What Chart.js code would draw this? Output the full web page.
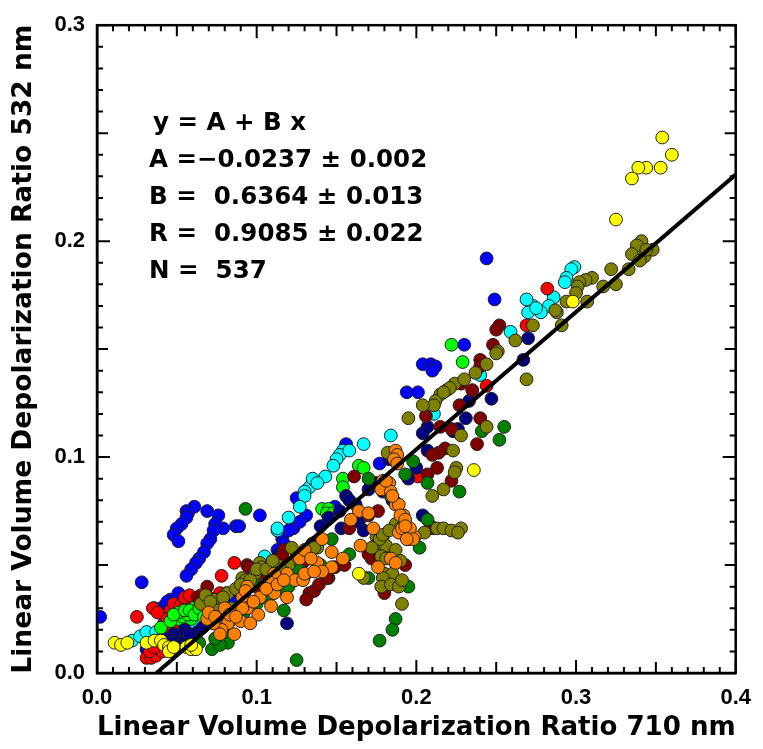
<!DOCTYPE html>
<html>
<head>
<meta charset="utf-8">
<script src="https://cdn.jsdelivr.net/npm/chart.js"></script>
<style>
  html, body { margin: 0; padding: 0; background: #fff; }
  #wrap { width: 763px; height: 749px; }
</style>
</head>
<body>
<div id="wrap"><canvas id="chart" width="763" height="749"></canvas></div>
<script>
// values: [LVDR 710 nm, LVDR 532 nm]
const yellowPts = [[0.011,0.014],[0.015,0.013],[0.019,0.014],[0.031,0.014],[0.036,0.015],[0.040,0.015],[0.042,0.013],[0.045,0.012],[0.045,0.010],[0.048,0.012],[0.056,0.012],[0.059,0.011],[0.062,0.011],[0.059,0.013],
  [0.164,0.046],[0.236,0.094],
  [0.354,0.248],[0.360,0.240],[0.353,0.234],[0.344,0.234],[0.339,0.234],[0.335,0.229],[0.325,0.210],[0.298,0.172]];

const orangePts = [[0.187,0.103],[0.188,0.101],[0.179,0.089],[0.180,0.087],[0.183,0.088],[0.178,0.085],[0.184,0.084],[0.187,0.078],[0.164,0.075],[0.159,0.071],
  [0.173,0.067],[0.189,0.065],[0.195,0.062],[0.199,0.063],[0.141,0.062],[0.186,0.099],[0.181,0.089],[0.170,0.074],[0.192,0.073],[0.196,0.067],
  [0.191,0.067],[0.184,0.053],[0.187,0.051],[0.176,0.049],[0.165,0.059],[0.154,0.053],[0.147,0.056],[0.138,0.051],[0.147,0.049],[0.127,0.053],
  [0.130,0.057],[0.119,0.046],[0.111,0.046],[0.105,0.041],[0.094,0.040],[0.091,0.035],[0.141,0.047],[0.124,0.043],[0.129,0.043],[0.130,0.046],
  [0.119,0.035],[0.108,0.042],[0.111,0.037],[0.102,0.035],[0.094,0.030],[0.101,0.027],[0.090,0.024],[0.082,0.023],[0.078,0.020],[0.073,0.023],
  [0.109,0.031],[0.080,0.030],[0.077,0.018],[0.069,0.025],[0.093,0.038],[0.091,0.030],[0.096,0.023],[0.086,0.018],[0.188,0.097],[0.189,0.078],
  [0.190,0.073],[0.193,0.071],[0.193,0.068],[0.198,0.062],[0.194,0.062],[0.185,0.082],
  [0.070,0.028],[0.074,0.026],[0.083,0.027],[0.087,0.026],[0.098,0.033],[0.106,0.039],[0.113,0.041],[0.117,0.043],[0.134,0.053],[0.136,0.047]];

const olivePts = [[0.341,0.200],[0.338,0.198],[0.335,0.194],[0.343,0.193],[0.348,0.196],[0.340,0.191],[0.344,0.196],[0.333,0.187],[0.325,0.180],[0.322,0.187],
  [0.317,0.179],[0.310,0.183],[0.306,0.182],[0.302,0.181],[0.301,0.179],[0.300,0.176],[0.307,0.172],[0.294,0.172],[0.288,0.167],[0.291,0.161],
  [0.273,0.161],[0.262,0.154],[0.251,0.149],[0.287,0.168],[0.250,0.148],[0.244,0.143],[0.237,0.139],[0.269,0.136],[0.224,0.134],[0.219,0.131],
  [0.215,0.129],[0.212,0.126],[0.211,0.124],[0.204,0.124],[0.195,0.118],[0.244,0.114],[0.228,0.110],[0.223,0.103],[0.210,0.082],[0.217,0.085],
  [0.225,0.095],[0.224,0.093],[0.182,0.102],[0.230,0.136],[0.221,0.132],[0.217,0.130],[0.205,0.065],[0.213,0.067],[0.217,0.067],[0.222,0.066],
  [0.228,0.067],[0.226,0.065],[0.187,0.069],[0.190,0.067],[0.179,0.063],[0.175,0.063],[0.176,0.060],[0.181,0.059],[0.187,0.057],[0.178,0.054],
  [0.181,0.053],[0.190,0.052],[0.180,0.046],[0.185,0.046],[0.179,0.044],[0.178,0.040],[0.184,0.041],[0.189,0.040],[0.191,0.043],[0.191,0.032],
  [0.167,0.044],[0.138,0.058],[0.136,0.058],[0.102,0.051],[0.103,0.049],[0.091,0.044],[0.081,0.037],[0.099,0.046],[0.177,0.062],[0.179,0.064],
  [0.183,0.066],[0.065,0.032],[0.082,0.037],[0.093,0.043],[0.100,0.048],[0.073,0.034],[0.084,0.030],[0.076,0.029],[0.120,0.050],[0.125,0.055],
  [0.113,0.050],[0.172,0.058],[0.195,0.062],
  [0.068,0.036],[0.071,0.033],[0.079,0.035],[0.087,0.039],[0.090,0.041],[0.096,0.043],[0.106,0.048],[0.110,0.052],[0.115,0.048],[0.122,0.058]];

const greenPts = [[0.255,0.114],[0.241,0.112],[0.252,0.108],[0.227,0.084],[0.207,0.088],[0.198,0.098],[0.193,0.092],[0.207,0.071],[0.170,0.090],[0.182,0.084],
  [0.184,0.082],[0.147,0.062],[0.202,0.058],[0.170,0.044],[0.195,0.040],[0.187,0.025],[0.185,0.020],[0.177,0.015],[0.158,0.055],[0.093,0.076],
  [0.113,0.046],[0.117,0.039],[0.117,0.029],[0.098,0.043],[0.125,0.006],[0.082,0.014],[0.064,0.014],[0.072,0.011],[0.077,0.013],[0.130,0.045],
  [0.140,0.050],[0.088,0.030],[0.105,0.035],
  [0.074,0.016],[0.080,0.019],[0.085,0.025],[0.092,0.028],[0.100,0.032],[0.108,0.036],[0.120,0.040],[0.126,0.048]];

const darkRedPts = [[0.252,0.161],[0.250,0.159],[0.248,0.152],[0.240,0.145],[0.240,0.142],[0.228,0.134],[0.235,0.131],[0.227,0.124],[0.206,0.119],[0.215,0.114],
  [0.222,0.113],[0.240,0.118],[0.238,0.106],[0.218,0.104],[0.214,0.102],[0.213,0.095],[0.207,0.092],[0.222,0.089],[0.209,0.068],[0.161,0.091],
  [0.176,0.075],[0.170,0.073],[0.158,0.067],[0.210,0.067],[0.210,0.101],[0.094,0.050],[0.117,0.057],[0.128,0.055],[0.130,0.052],[0.145,0.044],
  [0.149,0.049],[0.133,0.037],[0.136,0.038],[0.131,0.034],[0.139,0.041],[0.069,0.040],[0.095,0.049],[0.155,0.050],[0.144,0.044],[0.172,0.053],
  [0.170,0.055],[0.180,0.037],[0.193,0.050],[0.116,0.054],
  [0.120,0.045],[0.125,0.047],[0.110,0.044],[0.100,0.040],[0.103,0.046],[0.063,0.035]];

const navyPts = [[0.270,0.155],[0.267,0.145],[0.247,0.127],[0.231,0.118],[0.233,0.126],[0.207,0.114],[0.204,0.111],[0.223,0.112],[0.226,0.113],[0.207,0.103],
  [0.183,0.099],[0.204,0.073],[0.156,0.082],[0.158,0.080],[0.162,0.078],[0.179,0.084],[0.187,0.079],[0.153,0.067],[0.164,0.070],[0.167,0.066],
  [0.114,0.055],[0.107,0.049],[0.109,0.050],[0.119,0.023],[0.051,0.016],[0.056,0.017],[0.052,0.014],[0.060,0.015],[0.048,0.018],[0.063,0.019],
  [0.140,0.068],[0.135,0.060],[0.145,0.072],[0.170,0.085],[0.175,0.088],[0.195,0.090],[0.098,0.043],[0.092,0.040],[0.130,0.052],[0.152,0.075],
  [0.185,0.080],[0.200,0.095],
  [0.045,0.016],[0.050,0.013],[0.055,0.020],[0.058,0.018],[0.066,0.021],[0.070,0.024],[0.075,0.026],[0.080,0.028],[0.047,0.014]];

const redPts = [[0.025,0.026],[0.031,0.007],[0.034,0.007],[0.037,0.008],[0.039,0.011],[0.042,0.023],[0.046,0.029],[0.048,0.032],[0.054,0.029],[0.059,0.030],
  [0.060,0.033],[0.073,0.032],[0.076,0.033],[0.077,0.037],[0.086,0.051],[0.078,0.045],[0.041,0.010],[0.073,0.034],[0.070,0.035],[0.201,0.091],
  [0.244,0.133],[0.269,0.161],[0.282,0.178],[0.065,0.036],[0.050,0.027],[0.044,0.018],
  [0.035,0.030],[0.038,0.028],[0.044,0.025],[0.047,0.022],[0.052,0.031],[0.056,0.033],[0.063,0.030],[0.066,0.034],[0.069,0.031],[0.033,0.010],
  [0.036,0.012],[0.055,0.035],[0.058,0.036]];

const limePts = [[0.051,0.025],[0.054,0.026],[0.059,0.025],[0.051,0.028],[0.069,0.029],[0.040,0.021],[0.062,0.031],[0.057,0.027],[0.066,0.028],[0.072,0.027],
  [0.164,0.096],[0.167,0.095],[0.154,0.090],[0.141,0.076],[0.145,0.076],[0.144,0.074],[0.154,0.086],[0.222,0.152],[0.229,0.144],[0.148,0.074],
  [0.046,0.024],[0.048,0.027],[0.055,0.029],[0.058,0.029],[0.061,0.027],[0.064,0.030],[0.067,0.026],[0.075,0.030]];

const bluePts = [[0.056,0.075],[0.061,0.077],[0.069,0.075],[0.076,0.073],[0.079,0.067],[0.074,0.069],[0.073,0.066],[0.071,0.062],[0.069,0.060],[0.067,0.056],
  [0.064,0.053],[0.062,0.051],[0.059,0.048],[0.056,0.045],[0.057,0.074],[0.056,0.072],[0.053,0.069],[0.050,0.067],[0.048,0.064],[0.051,0.061],
  [0.087,0.068],[0.102,0.073],[0.028,0.042],[0.002,0.026],[0.046,0.034],[0.051,0.037],[0.042,0.031],[0.031,0.011],[0.039,0.015],
  [0.156,0.106],[0.125,0.081],[0.131,0.073],[0.127,0.070],[0.123,0.067],[0.120,0.066],[0.116,0.062],[0.149,0.077],[0.177,0.097],[0.089,0.068],
  [0.117,0.060],[0.113,0.057],
  [0.244,0.192],[0.249,0.173],[0.230,0.152],[0.204,0.143],[0.209,0.143],[0.212,0.142],[0.210,0.140],[0.194,0.130],[0.201,0.130],
  [0.054,0.025],[0.060,0.022],[0.072,0.028],[0.040,0.020],[0.085,0.035],[0.036,0.030],[0.044,0.033]];

const cyanPts = [[0.022,0.015],[0.027,0.017],[0.031,0.019],[0.037,0.019],[0.048,0.020],[0.052,0.024],[0.065,0.025],[0.113,0.066],[0.105,0.054],[0.045,0.022],
  [0.154,0.103],[0.152,0.101],[0.150,0.099],[0.148,0.096],[0.143,0.091],[0.136,0.089],[0.133,0.086],[0.130,0.084],[0.130,0.082],[0.127,0.077],
  [0.120,0.072],[0.113,0.067],[0.184,0.110],[0.167,0.106],[0.158,0.103],[0.135,0.090],[0.138,0.088],
  [0.299,0.188],[0.297,0.187],[0.294,0.183],[0.293,0.181],[0.286,0.174],[0.283,0.170],[0.278,0.167],[0.273,0.170],[0.270,0.167],
  [0.269,0.173],[0.275,0.169],[0.259,0.158],[0.240,0.138],[0.211,0.120],
  [0.041,0.020],[0.057,0.024],[0.061,0.023],[0.070,0.026]];

// linear fit shown on the figure
const fitA = -0.0237;
const fitB = 0.6364;
const fitText = ['y = A + B x', 'A =\u22120.0237 \u00B1 0.002', 'B =  0.6364 \u00B1 0.013', 'R =  0.9085 \u00B1 0.022', 'N =  537'];

const xTicks = [0, 0.1, 0.2, 0.3, 0.4];
const yTicks = [0, 0.1, 0.2, 0.3];

// top-most series first
const series = [
  { pts: yellowPts, color: '#ffff00' },
  { pts: orangePts, color: '#ff8000' },
  { pts: olivePts, color: '#808000' },
  { pts: greenPts, color: '#008000' },
  { pts: darkRedPts, color: '#800000' },
  { pts: navyPts, color: '#000080' },
  { pts: limePts, color: '#00ff00' },
  { pts: redPts, color: '#ff0000' },
  { pts: cyanPts, color: '#00ffff' },
  { pts: bluePts, color: '#0000ff' }
];

const datasets = series.map((s, i) => ({
  type: 'scatter',
  data: s.pts.map(p => ({ x: p[0], y: p[1] })),
  backgroundColor: s.color,
  borderColor: '#222',
  borderWidth: 1,
  pointRadius: 6.4,
  order: i + 1
}));

const x0 = -fitA / fitB;
datasets.push({
  type: 'line',
  data: [{ x: x0, y: 0 }, { x: 0.4, y: fitA + fitB * 0.4 }],
  borderColor: '#000',
  borderWidth: 4,
  pointRadius: 0,
  order: 0
});

// frame, inward minor ticks on all four sides, and fit text
const framePlugin = {
  id: 'frame',
  afterDraw(chart) {
    const { ctx, chartArea: a, scales } = chart;
    ctx.save();
    ctx.strokeStyle = '#000';
    ctx.lineWidth = 2.5;
    ctx.strokeRect(a.left, a.top, a.right - a.left, a.bottom - a.top);
    ctx.lineWidth = 2;
    for (let i = 0; i <= 40; i++) {
      const px = scales.x.getPixelForValue(i / 100);
      const len = i % 10 === 0 ? 13 : (i % 5 === 0 ? 11 : 6);
      ctx.beginPath();
      ctx.moveTo(px, a.bottom); ctx.lineTo(px, a.bottom - len);
      ctx.moveTo(px, a.top); ctx.lineTo(px, a.top + len);
      ctx.stroke();
    }
    for (let i = 0; i <= 30; i++) {
      const py = scales.y.getPixelForValue(i / 100);
      const len = i % 10 === 0 ? 13 : (i % 5 === 0 ? 11 : 6);
      ctx.beginPath();
      ctx.moveTo(a.left, py); ctx.lineTo(a.left + len, py);
      ctx.moveTo(a.right, py); ctx.lineTo(a.right - len, py);
      ctx.stroke();
    }
    ctx.fillStyle = '#000';
    ctx.font = 'bold 24.5px "DejaVu Sans"';
    ctx.textBaseline = 'alphabetic';
    fitText.forEach((t, i) => {
      ctx.fillText(t, a.left + (i === 0 ? 56 : 52), a.top + 105 + i * 37);
    });
    ctx.restore();
  }
};

new Chart(document.getElementById('chart'), {
  data: { datasets },
  options: {
    responsive: false,
    animation: false,
    devicePixelRatio: 1,
    layout: { autoPadding: false, padding: { left: 0, top: 20, right: 18, bottom: 0 } },
    plugins: { legend: { display: false }, tooltip: { enabled: false } },
    scales: {
      x: {
        type: 'linear', min: 0, max: 0.4,
        afterBuildTicks: s => { s.ticks = xTicks.map(v => ({ value: v })); },
        afterFit: s => { s.height = 76; },
        grid: { display: false, drawTicks: false },
        border: { display: true, color: '#000', width: 2.5 },
        ticks: { padding: 12, color: '#000', font: { family: '"Liberation Sans", Arial', size: 22, weight: 'bold' }, callback: v => v.toFixed(1), maxRotation: 0 },
        title: { display: true, text: 'Linear Volume Depolarization Ratio 710 nm', color: '#000', font: { family: '"DejaVu Sans"', size: 26.5, weight: 'bold' }, padding: { top: 0, bottom: 5 } }
      },
      y: {
        type: 'linear', min: 0, max: 0.3,
        afterBuildTicks: s => { s.ticks = yTicks.map(v => ({ value: v })); },
        afterFit: s => { s.width = 97; },
        grid: { display: false, drawTicks: false },
        border: { display: true, color: '#000', width: 2.5 },
        ticks: { padding: 12, color: '#000', font: { family: '"Liberation Sans", Arial', size: 22, weight: 'bold' }, callback: v => v.toFixed(1) },
        title: { display: true, text: 'Linear Volume Depolarization Ratio 532 nm', color: '#000', font: { family: '"DejaVu Sans"', size: 26.5, weight: 'bold' }, padding: { top: 8, bottom: 0 } }
      }
    }
  },
  plugins: [framePlugin]
});
</script>
</body>
</html>
